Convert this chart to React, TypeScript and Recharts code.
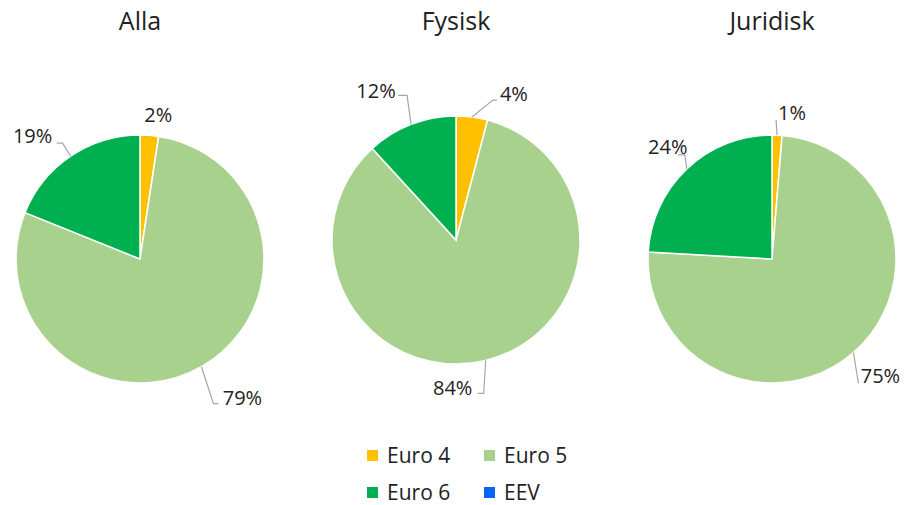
import React from "react";
import { PieChart, Pie, Cell, Legend } from "recharts";

// categories and colours
const CATEGORIES = ["Euro 4", "Euro 5", "Euro 6", "EEV"];
const COLORS = ["#FFC000", "#A9D18E", "#00B050", "#0A64F5"];

// share per group (%)
const ALLA = [2.4, 78.7, 18.9, 0];
const FYSISK = [4.1, 84.1, 11.8, 0];
const JURIDISK = [1.3, 74.6, 24.1, 0];

const TITLES = ["Alla", "Fysisk", "Juridisk"];

const FONT = "'Open Sans', sans-serif";
const TEXT = "#222222";
const LEADER = "#A6A6A6";

// label placement relative to the rim point of each slice: [label, knee, end]
type Offs = { label: [number, number]; line?: [number, number][] };
const LABEL_LAYOUT: Offs[][] = [
  [
    { label: [9, -21] },
    { label: [41, 31], line: [[12, 37], [17, 37]] },
    { label: [-38, -21], line: [[-8, -13], [-14, -13]] },
    { label: [0, 0] },
  ],
  [
    { label: [42, -24], line: [[21, -17], [25, -17]] },
    { label: [-33, 27], line: [[-2, 33], [-8, 33]] },
    { label: [-35, -34], line: [[-4, -29], [-13, -29]] },
    { label: [0, 0] },
  ],
  [
    { label: [15, -23], line: [[-1, -15]] },
    { label: [27, 23], line: [[5, 31]] },
    { label: [-19, -22], line: [[-2, -14], [-9, -14]] },
    { label: [0, 0] },
  ],
];

const PIES = [
  { values: ALLA, cx: 140, cy: 259 },
  { values: FYSISK, cx: 456, cy: 240 },
  { values: JURIDISK, cx: 772, cy: 259 },
];

const RAD = Math.PI / 180;

function makeLabel(pieIndex: number) {
  // eslint-disable-next-line @typescript-eslint/no-explicit-any
  return (props: any) => {
    const { cx, cy, midAngle, outerRadius, index, value } = props;
    if (!value) return null;
    const rx = cx + outerRadius * Math.cos(-midAngle * RAD);
    const ry = cy + outerRadius * Math.sin(-midAngle * RAD);
    const lay = LABEL_LAYOUT[pieIndex][index];
    const pts = [[rx, ry], ...(lay.line || []).map(([dx, dy]) => [rx + dx, ry + dy])];
    return (
      <g>
        {lay.line && (
          <polyline
            points={pts.map((p) => p.join(",")).join(" ")}
            fill="none"
            stroke={LEADER}
            strokeWidth={1.2}
          />
        )}
        <text
          x={rx + lay.label[0]}
          y={ry + lay.label[1]}
          textAnchor="middle"
          dominantBaseline="central"
          fontFamily={FONT}
          fontSize={20}
          fill={TEXT}
        >
          {Math.round(value)}%
        </text>
      </g>
    );
  };
}

function LegendBox() {
  return (
    <div
      style={{
        display: "grid",
        gridTemplateColumns: "117px 117px",
        rowGap: 17,
        fontFamily: FONT,
        fontSize: 21,
        color: TEXT,
      }}
    >
      {CATEGORIES.map((c, i) => (
        <div key={c} style={{ display: "flex", alignItems: "center", height: 20, lineHeight: "20px" }}>
          <span style={{ width: 11, height: 11, background: COLORS[i], marginRight: 9 }} />
          <span>{c}</span>
        </div>
      ))}
    </div>
  );
}

export default function App() {
  return (
    <div style={{ position: "absolute", left: 0, top: 0, width: 924, height: 505, background: "#fff" }}>
      {TITLES.map((t, i) => (
        <div
          key={t}
          style={{
            position: "absolute",
            left: PIES[i].cx - 100,
            width: 200,
            top: 8,
            lineHeight: "25px",
            textAlign: "center",
            fontFamily: FONT,
            fontSize: 25,
            color: TEXT,
          }}
        >
          {t}
        </div>
      ))}
      <PieChart width={924} height={505} margin={{ top: 0, right: 0, bottom: 0, left: 0 }}>
        {PIES.map((p, pi) => (
          <Pie
            key={pi}
            data={p.values.map((v, i) => ({ name: CATEGORIES[i], value: v }))}
            dataKey="value"
            nameKey="name"
            cx={p.cx}
            cy={p.cy}
            outerRadius={124}
            startAngle={90}
            endAngle={-270}
            stroke="#fff"
            strokeWidth={1.5}
            labelLine={false}
            label={makeLabel(pi)}
            isAnimationActive={false}
          >
            {p.values.map((_, i) => (
              <Cell key={i} fill={COLORS[i]} />
            ))}
          </Pie>
        ))}
        <Legend
          content={() => <LegendBox />}
          wrapperStyle={{ position: "absolute", left: 367, top: 445, width: 240, bottom: "auto" }}
        />
      </PieChart>
    </div>
  );
}
